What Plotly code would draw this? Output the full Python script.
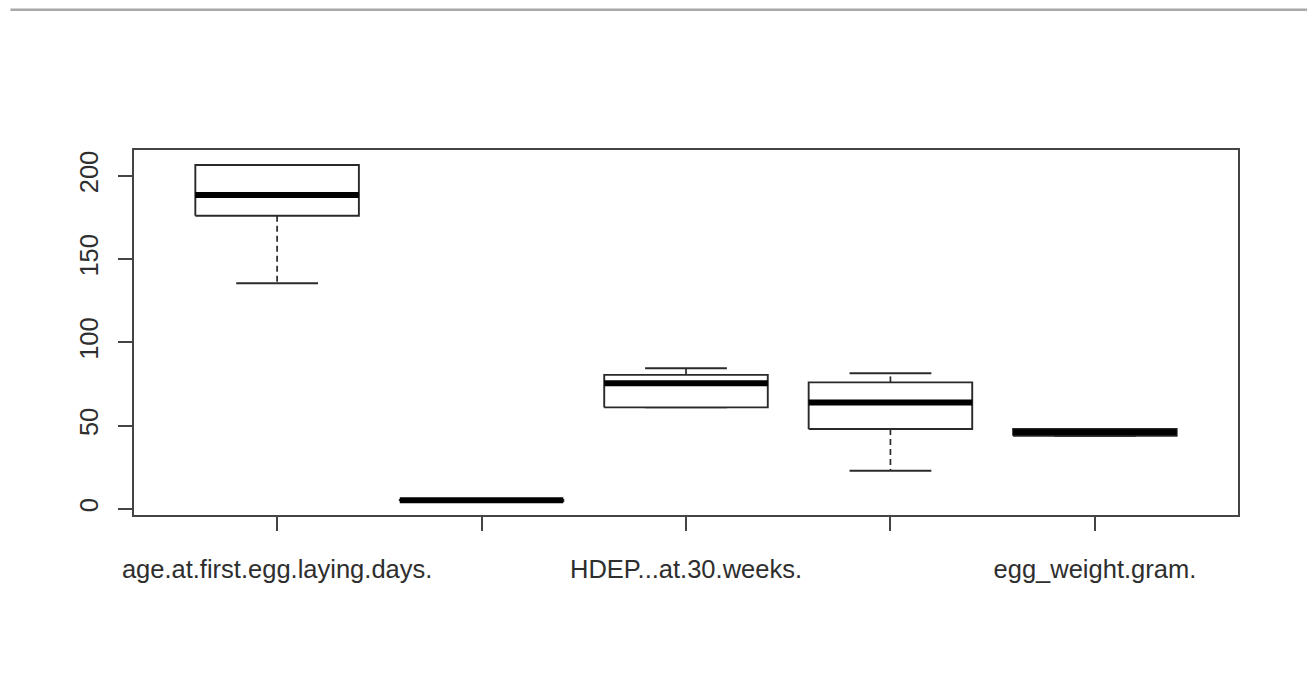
import plotly.graph_objects as go

# ---- data ----
positions = [1, 2, 3, 4, 5]
tick_labels = ["age.at.first.egg.laying.days.", "", "HDEP...at.30.weeks.", "", "egg_weight.gram."]
lower_whisker = [135.5, 4.8, 61.0, 23.0, 44.0]
q1 = [176.0, 4.8, 61.0, 48.0, 44.0]
median = [188.5, 5.2, 75.5, 64.0, 46.0]
q3 = [206.5, 5.5, 80.5, 76.0, 48.0]
upper_whisker = [206.5, 5.5, 84.5, 81.5, 48.0]
y_ticks = [0, 50, 100, 150, 200]

BOX_HALF = 0.4
CAP_HALF = 0.2
ink = "#2a2a2a"

box_x, box_y = [], []
med_x, med_y = [], []
wh_x, wh_y = [], []
cap_x, cap_y = [], []
for p, lo, a, m, b, hi in zip(positions, lower_whisker, q1, median, q3, upper_whisker):
    box_x += [p - BOX_HALF, p + BOX_HALF, p + BOX_HALF, p - BOX_HALF, p - BOX_HALF, None]
    box_y += [a, a, b, b, a, None]
    med_x += [p - BOX_HALF, p + BOX_HALF, None]
    med_y += [m, m, None]
    if lo < a:
        wh_x += [p, p, None]
        wh_y += [a, lo, None]
    if hi > b:
        wh_x += [p, p, None]
        wh_y += [b, hi, None]
    cap_x += [p - CAP_HALF, p + CAP_HALF, None, p - CAP_HALF, p + CAP_HALF, None]
    cap_y += [lo, lo, None, hi, hi, None]

fig = go.Figure()
fig.add_trace(go.Scatter(x=wh_x, y=wh_y, mode="lines",
                         line=dict(color=ink, width=1.7, dash="6px,4px"), hoverinfo="skip"))
fig.add_trace(go.Scatter(x=cap_x, y=cap_y, mode="lines",
                         line=dict(color=ink, width=1.9), hoverinfo="skip"))
fig.add_trace(go.Scatter(x=box_x, y=box_y, mode="lines", fill="toself", fillcolor="white",
                         line=dict(color=ink, width=1.9), hoverinfo="skip"))
fig.add_trace(go.Scatter(x=med_x, y=med_y, mode="lines",
                         line=dict(color="black", width=6), hoverinfo="skip"))

font = dict(family="Liberation Sans, Arial, sans-serif", size=25.5, color="#2e2e2e")

fig.update_layout(
    width=1299, height=669,
    margin=dict(l=126, r=69, t=142, b=162),
    paper_bgcolor="white", plot_bgcolor="white",
    showlegend=False,
    font=font,
    xaxis=dict(range=[0.3, 5.7], tickmode="array", tickvals=positions, ticktext=tick_labels,
               showgrid=False, zeroline=False, showline=True, mirror=True,
               linecolor="#444444", linewidth=1.6,
               ticks="outside", ticklen=14, tickwidth=1.6, tickcolor="#444444",
               ticklabelstandoff=17, tickfont=font),
    yaxis=dict(range=[-3.6, 215.5], tickmode="array", tickvals=y_ticks,
               showgrid=False, zeroline=False, showline=True, mirror=True,
               linecolor="#444444", linewidth=1.6,
               ticks="outside", ticklen=14, tickwidth=1.6, tickcolor="#444444",
               tickangle=-90, ticklabelstandoff=10, tickfont=font),
)

# screenshot frame line near the top edge
fig.add_shape(type="line", xref="paper", yref="paper", x0=-0.112, x1=1.065, y0=1.384, y1=1.384,
              line=dict(color="#a8a8a8", width=2.5))

fig.write_html("out.html")
